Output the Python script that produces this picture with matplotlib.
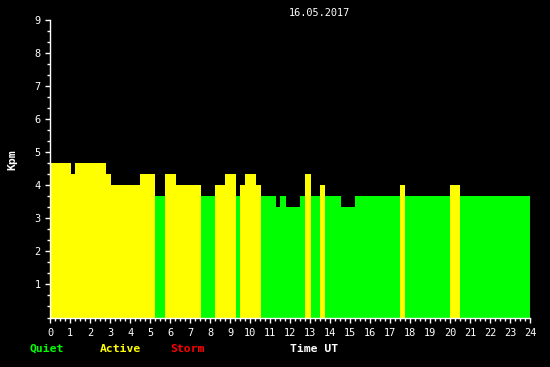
import numpy as np
import matplotlib
matplotlib.use('Agg')
import matplotlib.pyplot as plt
from matplotlib.ticker import MultipleLocator

# Kp index, 16.05.2017 (segment edges in hours UT, value per segment)
edges = [0, 1.05, 1.25, 2.8, 3.05, 4.5, 5.25, 5.75, 6.3, 7.55, 8.25, 8.75,
         9.3, 9.5, 9.75, 10.3, 10.55, 11.3, 11.5, 11.8, 12.5, 12.75, 13.05,
         13.5, 13.75, 14.55, 15.25, 17.5, 17.75, 20.0, 20.5, 24]
kp = [4.67, 4.33, 4.67, 4.33, 4.0, 4.33, 3.67, 4.33, 4.0, 3.67, 4.0, 4.33,
      3.67, 4.0, 4.33, 4.0, 3.67, 3.33, 3.67, 3.33, 3.67, 4.33, 3.67, 4.0,
      3.67, 3.33, 3.67, 4.0, 3.67, 4.0, 3.67]
date_label = '16.05.2017'
hour_ticks = list(range(25))
kp_ticks = list(range(1, 10))

QUIET = '#00ff00'
ACTIVE = '#ffff00'
STORM = '#ff0000'

def kp_color(v):
    if v >= 5:
        return STORM
    if v >= 4:
        return ACTIVE
    return QUIET

mono = 'DejaVu Sans Mono'
fs = 7.4
fs_bold = 8.2

fig = plt.figure(figsize=(5.5, 3.67), dpi=100)
fig.patch.set_facecolor('black')
ax = fig.add_axes([50/550, 1 - 317.5/367, 480/550, 297.5/367])
ax.set_facecolor('black')

starts = np.array(edges[:-1])
widths = np.diff(edges)
ax.bar(starts, kp, width=widths, align='edge',
       color=[kp_color(v) for v in kp], linewidth=0)

ax.set_xlim(0, 24)
ax.set_ylim(0, 9)
for s in ['top', 'right']:
    ax.spines[s].set_visible(False)
for s in ['left', 'bottom']:
    ax.spines[s].set_color('white')
    ax.spines[s].set_linewidth(1)

ax.set_xticks(hour_ticks)
ax.set_xticklabels([str(h) for h in hour_ticks])
ax.xaxis.set_minor_locator(MultipleLocator(0.25))
ax.set_yticks(kp_ticks)
ax.set_yticklabels([str(k) for k in kp_ticks])
ax.yaxis.set_minor_locator(MultipleLocator(1/3))

ax.tick_params(axis='both', which='both', colors='white', width=1)
ax.tick_params(axis='x', which='major', length=3.5, pad=4)
ax.tick_params(axis='x', which='minor', length=2)
ax.tick_params(axis='y', which='major', length=3.8, pad=3)
ax.tick_params(axis='y', which='minor', length=2.2)
for lab in ax.get_xticklabels() + ax.get_yticklabels():
    lab.set_fontfamily(mono)
    lab.set_fontsize(fs)
    lab.set_color('white')

fig.text(319/550, 1 - 13/367, date_label, color='white', family=mono,
         fontsize=fs, ha='center', va='center')
fig.text(12/550, 1 - 160/367, 'Kpm', color='white', family=mono,
         fontsize=fs_bold, fontweight='bold', rotation=90, ha='center', va='center')

ly = 1 - 349/367
fig.text(30/550, ly, 'Quiet', color=QUIET, family=mono, fontsize=fs_bold,
         fontweight='bold', ha='left', va='center')
fig.text(100/550, ly, 'Active', color=ACTIVE, family=mono, fontsize=fs_bold,
         fontweight='bold', ha='left', va='center')
fig.text(170/550, ly, 'Storm', color=STORM, family=mono, fontsize=fs_bold,
         fontweight='bold', ha='left', va='center')
fig.text(290/550, ly, 'Time UT', color='white', family=mono, fontsize=fs_bold,
         fontweight='bold', ha='left', va='center')

fig.savefig('out.png', dpi=100, facecolor='black')
